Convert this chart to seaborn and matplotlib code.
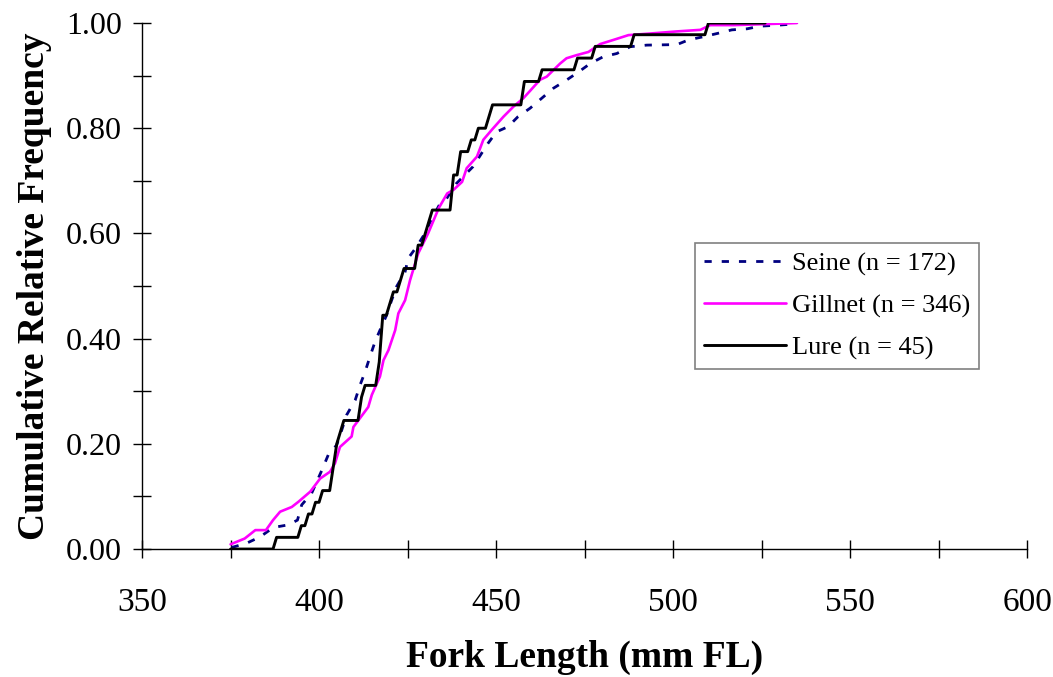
import numpy as np
import pandas as pd
import matplotlib
matplotlib.use("Agg")
import matplotlib.pyplot as plt
import seaborn as sns

# Seine: cumulative curve (fork length mm, cum. rel. freq.)
seine_len = [375.3, 379.5, 383.3, 387.1, 391.3, 393.9, 395.1, 397.9, 400.8, 402.6,
             405.0, 406.4, 407.8, 410.2, 411.6, 413.0, 414.4, 415.8, 417.2, 419.1,
             420.5, 421.9, 424.3, 425.2, 427.6, 429.9, 431.4, 434.2, 436.0, 438.8,
             443.5, 447.7, 450.1, 453.4, 456.2, 459.6, 462.9, 466.2, 470.0, 473.3,
             476.6, 480.3, 484.1, 487.9, 492.6, 501.1, 504.4, 508.6, 512.4, 516.6,
             520.9, 524.6, 529.8, 534.0]
seine_cum = [0.003, 0.011, 0.023, 0.041, 0.046, 0.055, 0.084, 0.106, 0.150, 0.179,
             0.198, 0.226, 0.255, 0.283, 0.312, 0.337, 0.366, 0.394, 0.416, 0.445,
             0.473, 0.499, 0.527, 0.553, 0.575, 0.600, 0.622, 0.657, 0.666, 0.695,
             0.727, 0.771, 0.793, 0.803, 0.822, 0.838, 0.857, 0.876, 0.892, 0.907,
             0.923, 0.936, 0.942, 0.955, 0.958, 0.959, 0.968, 0.974, 0.980, 0.987,
             0.989, 0.994, 0.996, 0.998]

# Gillnet
gill_len = [375.0, 379.0, 382.0, 385.0, 387.0, 389.0, 392.3, 394.2, 397.5, 400.3,
            403.1, 404.5, 405.9, 409.2, 409.7, 413.9, 414.9, 417.2, 418.2, 419.6,
            421.5, 422.4, 424.3, 425.7, 428.0, 430.8, 433.8, 436.2, 438.0, 440.4,
            441.7, 444.6, 446.4, 448.8, 452.1, 454.9, 457.7, 459.6, 462.4, 464.3,
            468.1, 469.9, 472.8, 476.1, 479.4, 483.2, 487.4, 493.5, 501.0, 507.7,
            510.5, 517.1, 526.5, 535.0]
gill_cum = [0.009, 0.020, 0.036, 0.036, 0.055, 0.071, 0.080, 0.090, 0.109, 0.134,
            0.147, 0.163, 0.194, 0.214, 0.232, 0.270, 0.293, 0.328, 0.359, 0.378,
            0.416, 0.448, 0.473, 0.511, 0.562, 0.600, 0.648, 0.676, 0.683, 0.698,
            0.724, 0.746, 0.778, 0.797, 0.822, 0.841, 0.857, 0.871, 0.892, 0.898,
            0.923, 0.933, 0.939, 0.945, 0.960, 0.968, 0.977, 0.980, 0.984, 0.987,
            0.996, 0.996, 0.998, 1.000]

# Lure: individual fork lengths (n = 45)
lure_fish = [388, 395, 397, 399, 401, 404, 404, 405, 405, 406, 407, 412, 412, 413,
             417, 417, 418, 418, 418, 418, 420, 421, 423, 424, 428, 428, 430, 431,
             432, 438, 438, 438, 440, 440, 443, 445, 448, 449, 458, 458, 463, 473,
             478, 489, 510]
lure_start, lure_end = 375, 526

labels = ["Seine (n = 172)", "Gillnet (n = 346)", "Lure (n = 45)"]

# cumulative relative frequency per 1 mm for the lure fish
grid = np.arange(lure_start, lure_end + 1)
counts = np.array([lure_fish.count(g) for g in grid])
lure_df = pd.DataFrame({"len": grid, "cum": np.cumsum(counts) / len(lure_fish)})
seine_df = pd.DataFrame({"len": seine_len, "cum": seine_cum})
gill_df = pd.DataFrame({"len": gill_len, "cum": gill_cum})

sns.set_theme(style="ticks")
plt.rcParams["font.family"] = ["Liberation Serif", "DejaVu Serif"]
plt.rcParams["text.color"] = "black"
plt.rcParams["axes.labelcolor"] = "black"
plt.rcParams["xtick.color"] = "black"
plt.rcParams["ytick.color"] = "black"

fig = plt.figure(figsize=(10.53, 6.77), dpi=100)
ax = fig.add_axes([0.1349, 0.189, 0.8405, 0.777])

sns.lineplot(data=seine_df, x="len", y="cum", ax=ax, color="#000080", lw=2.0,
             label=labels[0], estimator=None)
ax.lines[-1].set_dashes([2.6, 3.6])
sns.lineplot(data=gill_df, x="len", y="cum", ax=ax, color="#ff00ff", lw=1.9,
             label=labels[1], estimator=None)
sns.lineplot(data=lure_df, x="len", y="cum", ax=ax, color="black", lw=2.1,
             label=labels[2], estimator=None)

ax.set_xlim(350, 600)
ax.set_ylim(0, 1)
ax.set_xticks(np.arange(350, 601, 50))
ax.set_xticks(np.arange(375, 600, 50), minor=True)
ax.set_yticks(np.arange(0, 1.01, 0.2))
ax.set_yticks(np.arange(0.1, 1.0, 0.2), minor=True)
ax.set_yticklabels([f"{v:.2f}" for v in np.arange(0, 1.01, 0.2)])

ax.tick_params(which="both", direction="inout", length=13, width=1,
               color="black", bottom=True, left=True)
ax.tick_params(axis="y", labelsize=23, pad=8)
ax.tick_params(axis="x", labelsize=24, pad=21)

for s in ["top", "right"]:
    ax.spines[s].set_visible(False)
for s in ["left", "bottom"]:
    ax.spines[s].set_color("black")
    ax.spines[s].set_linewidth(1)

ax.set_xlabel("Fork Length (mm FL)", fontsize=27, fontweight="bold", labelpad=16)
ax.set_ylabel("Cumulative Relative Frequency", fontsize=27, fontweight="bold", labelpad=10)

leg = ax.legend(loc="upper left", bbox_to_anchor=(0.625, 0.582), fontsize=19,
                frameon=True, fancybox=False, edgecolor="#808080", framealpha=1,
                handlelength=3.1, handletextpad=0.2, labelspacing=0.68,
                borderpad=0.35, borderaxespad=0)
leg.get_frame().set_linewidth(1.2)

fig.savefig("out.png", dpi=100)
